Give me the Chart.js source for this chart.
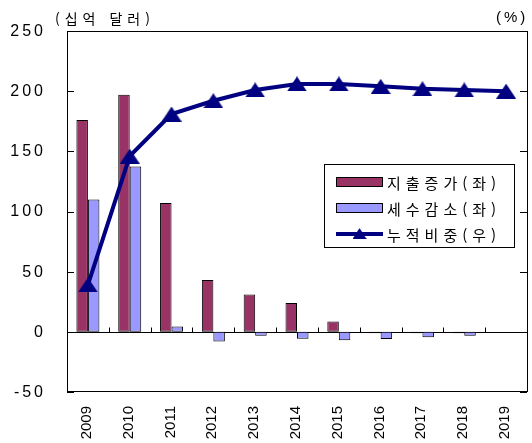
<!DOCTYPE html>
<html lang="ko">
<head>
<meta charset="utf-8">
<title>지출 증가와 세수 감소</title>
<script src="https://cdn.jsdelivr.net/npm/chart.js@4/dist/chart.umd.min.js"></script>
<style>
  html, body { margin: 0; padding: 0; background: #fff; overflow: hidden; }
  canvas { display: block; }
</style>
</head>
<body>
<canvas id="chart" width="540" height="443"></canvas>
<script>
// Categories and series (left axis: 십억 달러, right axis: %)
const years = ['2009', '2010', '2011', '2012', '2013', '2014', '2015', '2016', '2017', '2018', '2019'];
const spendingIncrease = [176, 197, 107, 43, 31, 24, 8.6, -1.2, -1.2, -1.2, null];
const revenueDecrease = [110, 137.5, 4.4, -8, -3.3, -5.8, -7, -6, -4.5, -3.3, null];
const cumulativeShare = [39, 146, 181, 192, 201, 206, 206, 204, 202, 201, 200];

const seriesLabels = ['지출증가(좌)', '세수감소(좌)', '누적비중(우)'];
const leftUnit = '(십억 달러)';
const rightUnit = '(%)';
const axisMin = -50, axisMax = 250, axisStep = 50;

const MAROON = '#993366';
const LAVENDER = '#9999FF';
const NAVY = '#000080';
const KR_FONT = '"Noto Sans CJK KR", "Noto Sans", sans-serif';
const NUM_FONT = '"Liberation Sans", Arial, sans-serif';

// Triangle marker used for the line points
function triangleMarker(w, h, color) {
  const c = document.createElement('canvas');
  c.width = w; c.height = h;
  const g = c.getContext('2d');
  g.fillStyle = color;
  g.beginPath();
  g.moveTo(w / 2, 0);
  g.lineTo(w, h);
  g.lineTo(0, h);
  g.closePath();
  g.fill();
  return c;
}
const marker = triangleMarker(20, 15, NAVY);

// Draw text one glyph at a time with extra spacing between glyphs
function spacedText(ctx, text, x, y, spacing, align) {
  const chars = Array.from(text);
  const widths = chars.map(ch => ctx.measureText(ch).width);
  const total = widths.reduce((s, w) => s + w, 0) + spacing * (chars.length - 1);
  let cx = align === 'right' ? x - total : x;
  ctx.textAlign = 'left';
  chars.forEach((ch, i) => {
    ctx.fillText(ch, cx, y);
    cx += widths[i] + spacing;
  });
}

const decorations = {
  id: 'decorations',
  beforeDatasetsDraw(chart) {
    const { ctx, chartArea: a, scales: { x, y } } = chart;
    ctx.save();
    ctx.strokeStyle = '#000';
    ctx.lineWidth = 1;

    // plot frame
    ctx.strokeRect(a.left + 0.5, a.top + 0.5, a.right - a.left, a.bottom - a.top - 1);

    // inner tick marks on both value axes
    ctx.beginPath();
    y.ticks.forEach(t => {
      const py = Math.round(y.getPixelForValue(t.value)) + 0.5;
      ctx.moveTo(a.left, py); ctx.lineTo(a.left + 7, py);
      ctx.moveTo(a.right - 7, py); ctx.lineTo(a.right, py);
    });
    ctx.stroke();

    // category axis crossing at zero, with ticks between categories
    const z = Math.round(y.getPixelForValue(0)) + 0.5;
    ctx.beginPath();
    ctx.moveTo(a.left, z); ctx.lineTo(a.right, z);
    for (let i = 1; i < years.length; i++) {
      const bx = Math.round((x.getPixelForValue(i - 1) + x.getPixelForValue(i)) / 2) + 0.5;
      ctx.moveTo(bx, z - 5); ctx.lineTo(bx, z);
    }
    ctx.stroke();
    ctx.restore();
  },
  afterDraw(chart) {
    const { ctx, chartArea: a, scales: { x, y } } = chart;
    ctx.save();
    ctx.fillStyle = '#000';

    // left value labels
    ctx.font = '16px ' + NUM_FONT;
    ctx.textBaseline = 'middle';
    y.ticks.forEach(t => {
      spacedText(ctx, String(t.value), 43, y.getPixelForValue(t.value) + 0.5, 3, 'right');
    });

    // year labels, rotated
    ctx.font = '15px ' + NUM_FONT;
    ctx.textBaseline = 'alphabetic';
    years.forEach((yr, i) => {
      ctx.save();
      ctx.translate(x.getPixelForValue(i) + 3, a.bottom + 14);
      ctx.rotate(-Math.PI / 2);
      ctx.textAlign = 'right';
      ctx.fillText(yr, 0, 0);
      ctx.restore();
    });

    // unit captions
    ctx.font = '14px ' + KR_FONT;
    ctx.textBaseline = 'middle';
    spacedText(ctx, leftUnit, 55, 19, 5, 'left');
    ctx.font = '15px ' + NUM_FONT;
    spacedText(ctx, rightUnit, 496, 18, 3, 'left');

    // legend box
    const lx = 324, ly = 164, lw = 190, lh = 83;
    ctx.fillStyle = '#fff';
    ctx.fillRect(lx, ly, lw, lh);
    ctx.strokeStyle = '#000';
    ctx.lineWidth = 1;
    ctx.strokeRect(lx + 0.5, ly + 0.5, lw, lh);

    const rows = [182, 208, 234];
    const sx = 336, sw = 47;
    [MAROON, LAVENDER].forEach((col, i) => {
      ctx.fillStyle = col;
      ctx.fillRect(sx, rows[i] - 5, sw, 10);
      ctx.strokeStyle = '#000';
      ctx.strokeRect(sx + 0.5, rows[i] - 4.5, sw - 1, 9);
    });
    ctx.strokeStyle = NAVY;
    ctx.lineWidth = 4;
    ctx.beginPath();
    ctx.moveTo(sx, rows[2]); ctx.lineTo(sx + sw, rows[2]);
    ctx.stroke();
    ctx.drawImage(marker, sx + sw / 2 - 7, rows[2] - 6, 14, 11);

    ctx.fillStyle = '#000';
    ctx.font = '15px ' + KR_FONT;
    ctx.textBaseline = 'middle';
    seriesLabels.forEach((lab, i) => {
      spacedText(ctx, lab, 387, rows[i] + 1, 5, 'left');
    });
    ctx.restore();
  }
};

new Chart(document.getElementById('chart'), {
  data: {
    labels: years,
    datasets: [
      {
        type: 'bar',
        label: seriesLabels[0],
        data: spendingIncrease,
        backgroundColor: MAROON,
        borderColor: '#000',
        borderWidth: 1,
        borderSkipped: false,
        yAxisID: 'y',
        order: 2
      },
      {
        type: 'bar',
        label: seriesLabels[1],
        data: revenueDecrease,
        backgroundColor: LAVENDER,
        borderColor: '#000',
        borderWidth: 1,
        borderSkipped: false,
        yAxisID: 'y',
        order: 2
      },
      {
        type: 'line',
        label: seriesLabels[2],
        data: cumulativeShare,
        borderColor: NAVY,
        borderWidth: 4,
        tension: 0,
        pointStyle: marker,
        pointRadius: 9,
        pointBackgroundColor: NAVY,
        pointBorderColor: NAVY,
        yAxisID: 'y1',
        order: 1
      }
    ]
  },
  options: {
    responsive: false,
    devicePixelRatio: 1,
    animation: false,
    layout: { padding: { left: 67, top: 31, right: 4, bottom: 51 } },
    datasets: {
      bar: { categoryPercentage: 0.55, barPercentage: 1.0 }
    },
    plugins: {
      legend: { display: false },
      tooltip: { enabled: false }
    },
    scales: {
      x: { display: false, offset: true },
      y: { display: false, min: axisMin, max: axisMax, ticks: { stepSize: axisStep } },
      y1: { display: false, position: 'right', min: axisMin, max: axisMax, ticks: { stepSize: axisStep } }
    }
  },
  plugins: [decorations]
});
</script>
</body>
</html>
